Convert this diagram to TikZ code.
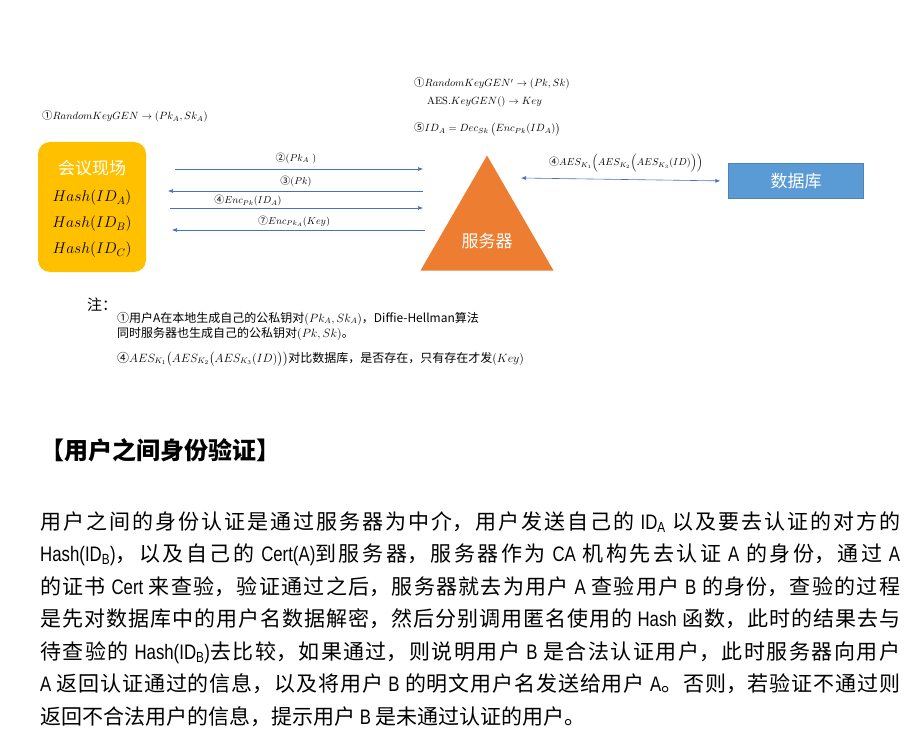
\RequirePackage{fix-cm}
\documentclass[tikz,border=0pt]{standalone}
\usepackage{amsmath}
\usepackage{fontspec}
\usetikzlibrary{shapes.geometric, arrows.meta, positioning}
\newfontfamily\cjk{Noto Sans CJK SC}
\newfontfamily\narrowlat{Liberation Sans}[FakeStretch=0.8]
\definecolor{venueyellow}{RGB}{255, 192, 0}
\definecolor{serverorange}{RGB}{237, 125, 49}
\definecolor{dbblue}{RGB}{91, 155, 213}
\definecolor{msgblue}{RGB}{68, 114, 196}
\XeTeXlinebreaklocale "zh"
\XeTeXlinebreakskip=0pt plus 3pt
\newcommand{\cnum}[1]{{\cjk #1}}
\newcommand{\lat}[1]{{\narrowlat #1}}
\newcommand{\fullline}[1]{\parbox[t]{860pt}{\parfillskip=0pt\relax #1}}
\newcommand{\lastline}[1]{\parbox[t]{860pt}{#1}}
\tikzset{
  venue/.style     = {rectangle, rounded corners=12pt, fill=venueyellow, minimum width=108pt, minimum height=130pt, inner sep=0pt},
  server/.style    = {isosceles triangle, isosceles triangle stretches, shape border rotate=90, fill=serverorange, minimum width=133pt, minimum height=115pt, inner sep=0pt},
  dbbox/.style     = {rectangle, fill=dbblue, draw=dbblue!85!black, minimum width=135pt, minimum height=35pt, text=white, font=\cjk\fontsize{17}{20}\selectfont},
  whitetxt/.style  = {text=white, font=\cjk\fontsize{17}{20}\selectfont, inner sep=0pt},
  hashtxt/.style   = {font=\fontsize{15.5}{18}\selectfont, inner sep=0pt},
  msg/.style       = {-{Latex[length=5pt, width=4pt]}, msgblue, line width=0.6pt},
  msgboth/.style   = {{Latex[length=5pt, width=4pt]}-{Latex[length=5pt, width=4pt]}, msgblue, line width=0.6pt},
  msglabel/.style  = {font=\fontsize{10}{12}\selectfont, inner sep=0pt, anchor=base},
  keylabel/.style  = {font=\fontsize{10.5}{12}\selectfont, inner sep=0pt, anchor=base west},
  notetxt/.style   = {font=\cjk\fontsize{12}{14}\selectfont, inner sep=0pt, anchor=base west},
  headtxt/.style   = {font=\cjk\bfseries\fontsize{24}{28}\selectfont, inner sep=0pt, anchor=base west},
  bodytxt/.style   = {font=\cjk\fontsize{21}{32.5}\selectfont, inner sep=0pt, anchor=base west},
}

\begin{document}
\begin{tikzpicture}[x=1pt, y=-1pt]
\useasboundingbox[fill=white] (0,0) rectangle (920,738);

% ===================== 会议现场 / 服务器 / 数据库 =====================
\node[venue] (venue) at (92,207) {};
\node[whitetxt] (venuename) at (92,168) {会议现场};
\node[hashtxt] (hashA) at (92,198) {$Hash(ID_A)$};
\node[hashtxt] (hashB) at (92,224) {$Hash(ID_B)$};
\node[hashtxt] (hashC) at (92,250) {$Hash(ID_C)$};

\node[server, anchor=apex] (srv) at (487,155) {};
\node[whitetxt] (srvname) at (487,241) {服务器};

\node[dbbox] (db) at (796,181) {数据库};

% 各方生成密钥
\node[keylabel] (genA) at (42,120) {\cnum{①}$RandomKeyGEN \rightarrow (Pk_A, Sk_A)$};
\node[keylabel] (genS) at (414,87) {\cnum{①}$RandomKeyGEN' \rightarrow (Pk, Sk)$};
\node[keylabel] (genK) at (427,105) {$\mathrm{AES}.KeyGEN() \rightarrow Key$};
\node[keylabel] (decS) at (414,132) {\cnum{⑤}$ID_A = Dec_{Sk}\,\big(Enc_{Pk}(ID_A)\big)$};

% ===================== 消息通道 =====================
\coordinate (m2a) at (175,169); \coordinate (m2b) at (423,169);
\coordinate (m3a) at (423,191); \coordinate (m3b) at (168,191);
\coordinate (m4a) at (170,208); \coordinate (m4b) at (423,208);
\coordinate (m7a) at (425,230); \coordinate (m7b) at (172,230);
\coordinate (dbin) at (521,178);

\draw[msg] (m2a) -- (m2b);
\draw[msg] (m3a) -- (m3b);
\draw[msg] (m4a) -- (m4b);
\draw[msg] (m7a) -- (m7b);
\draw[msgboth, shorten >=8pt] (dbin) -- (db.west);

\node[msglabel] (lab2) at (296,161) {\cnum{②}$(Pk_A\ )$};
\node[msglabel] (lab3) at (296,184) {\cnum{③}$(Pk)$};
\node[msglabel] (lab4) at (248,204) {\cnum{④}$Enc_{Pk}(ID_A)$};
\node[msglabel] (lab7) at (294,224) {\cnum{⑦}$Enc_{Pk_A}(Key)$};
\node[msglabel] (labdb) at (626,166) {\cnum{④}$AES_{K_1}\Big(AES_{K_2}\Big(AES_{K_3}(ID)\Big)\Big)$};

% ===================== 注 =====================
\node[notetxt, font=\cjk\fontsize{15}{18}\selectfont] (notehead) at (87,310) {注：};
\node[notetxt] (note1) at (117,322) {①用户A在本地生成自己的公私钥对$(Pk_A, Sk_A)$，Diffie-Hellman算法};
\node[notetxt] (note2) at (117,337) {同时服务器也生成自己的公私钥对$(Pk, Sk)$。};
\node[notetxt] (note3) at (117,362) {④$AES_{K_1}\big(AES_{K_2}\big(AES_{K_3}(ID)\big)\big)$对比数据库，是否存在，只有存在才发$(Key)$};

% ===================== 正文 =====================
\node[headtxt] (head) at (40,459) {【用户之间身份验证】};

\node[bodytxt] (line1) at (40,529) {\fullline{用户之间的身份认证是通过服务器为中介，用户发送自己的 \lat{ID\textsubscript{A}} 以及要去认证的对方的}};
\node[bodytxt] (line2) at (40,561.5) {\fullline{\lat{Hash(ID\textsubscript{B})}，以及自己的 \lat{Cert(A)}到服务器，服务器作为 \lat{CA} 机构先去认证 \lat{A} 的身份，通过 \lat{A}}};
\node[bodytxt] (line3) at (40,594) {\fullline{的证书 \lat{Cert} 来查验，验证通过之后，服务器就去为用户 \lat{A} 查验用户 \lat{B} 的身份，查验的过程}};
\node[bodytxt] (line4) at (40,626.5) {\fullline{是先对数据库中的用户名数据解密，然后分别调用匿名使用的 \lat{Hash} 函数，此时的结果去与}};
\node[bodytxt] (line5) at (40,659) {\fullline{待查验的 \lat{Hash(ID\textsubscript{B})}去比较，如果通过，则说明用户 \lat{B} 是合法认证用户，此时服务器向用户}};
\node[bodytxt] (line6) at (40,691.5) {\fullline{\lat{A} 返回认证通过的信息，以及将用户 \lat{B} 的明文用户名发送给用户 \lat{A}。否则，若验证不通过则}};
\node[bodytxt] (line7) at (40,724) {\lastline{返回不合法用户的信息，提示用户 \lat{B} 是未通过认证的用户。}};

\end{tikzpicture}
\end{document}
